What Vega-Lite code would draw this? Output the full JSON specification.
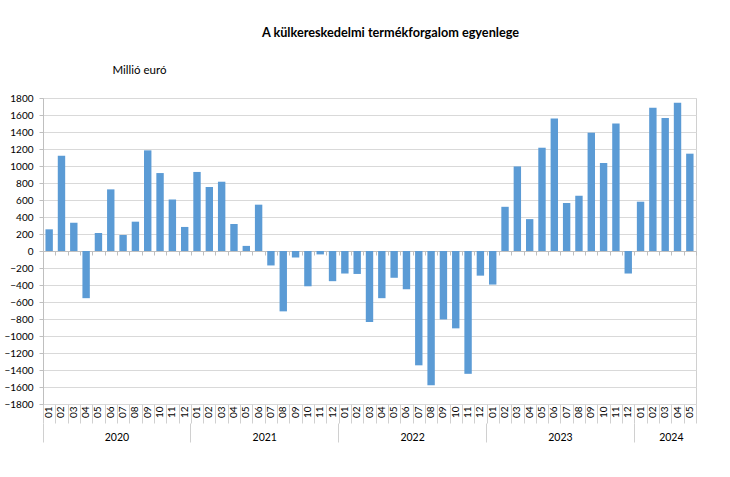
{
  "$schema": "https://vega.github.io/schema/vega-lite/v6.json",
  "width": 653,
  "height": 306,
  "autosize": {"type": "none"},
  "padding": {"left": 43, "top": 98, "right": 34, "bottom": 73},
  "background": "white",
  "config": {
    "font": "Lato",
    "view": {"stroke": "#d0d0d0", "strokeWidth": 1},
    "axis": {"labelFont": "Lato", "titleFont": "Lato", "labelColor": "#000000", "titleColor": "#000000"}
  },
  "title": {
    "text": "A külkereskedelmi termékforgalom egyenlege",
    "anchor": "middle",
    "frame": "group",
    "dx": 21,
    "offset": 24,
    "fontSize": 12.7,
    "font": "Lato",
    "fontWeight": "bold",
    "color": "#000000"
  },
  "data": {
    "values": [
      {"ym": "2020-01", "value": 255}, {"ym": "2020-02", "value": 1120}, {"ym": "2020-03", "value": 333},
      {"ym": "2020-04", "value": -555}, {"ym": "2020-05", "value": 212}, {"ym": "2020-06", "value": 725},
      {"ym": "2020-07", "value": 188}, {"ym": "2020-08", "value": 345}, {"ym": "2020-09", "value": 1184},
      {"ym": "2020-10", "value": 917}, {"ym": "2020-11", "value": 605}, {"ym": "2020-12", "value": 283},
      {"ym": "2021-01", "value": 930}, {"ym": "2021-02", "value": 753}, {"ym": "2021-03", "value": 815},
      {"ym": "2021-04", "value": 318}, {"ym": "2021-05", "value": 60}, {"ym": "2021-06", "value": 545},
      {"ym": "2021-07", "value": -170}, {"ym": "2021-08", "value": -710}, {"ym": "2021-09", "value": -75},
      {"ym": "2021-10", "value": -415}, {"ym": "2021-11", "value": -40}, {"ym": "2021-12", "value": -355},
      {"ym": "2022-01", "value": -265}, {"ym": "2022-02", "value": -270}, {"ym": "2022-03", "value": -835},
      {"ym": "2022-04", "value": -555}, {"ym": "2022-05", "value": -315}, {"ym": "2022-06", "value": -450},
      {"ym": "2022-07", "value": -1345}, {"ym": "2022-08", "value": -1580}, {"ym": "2022-09", "value": -805},
      {"ym": "2022-10", "value": -910}, {"ym": "2022-11", "value": -1445}, {"ym": "2022-12", "value": -290},
      {"ym": "2023-01", "value": -395}, {"ym": "2023-02", "value": 520}, {"ym": "2023-03", "value": 995},
      {"ym": "2023-04", "value": 375}, {"ym": "2023-05", "value": 1215}, {"ym": "2023-06", "value": 1560},
      {"ym": "2023-07", "value": 565}, {"ym": "2023-08", "value": 650}, {"ym": "2023-09", "value": 1392},
      {"ym": "2023-10", "value": 1035}, {"ym": "2023-11", "value": 1500}, {"ym": "2023-12", "value": -265},
      {"ym": "2024-01", "value": 580}, {"ym": "2024-02", "value": 1685}, {"ym": "2024-03", "value": 1565},
      {"ym": "2024-04", "value": 1745}, {"ym": "2024-05", "value": 1145}
    ]
  },
  "layer": [
    {
      "mark": {"type": "bar", "color": "#5b9bd5", "width": 7.4},
      "encoding": {
        "x": {
          "field": "ym", "type": "ordinal",
          "scale": {"paddingInner": 0, "paddingOuter": 0},
          "axis": {
            "orient": "bottom", "title": null, "domain": false,
            "labelExpr": "slice(datum.value, 5)",
            "labelAngle": -90, "labelAlign": "right", "labelBaseline": "middle",
            "labelFontSize": 10, "labelPadding": 2,
            "ticks": false
          }
        },
        "y": {
          "field": "value", "type": "quantitative",
          "scale": {"domain": [-1800, 1800], "nice": false},
          "axis": {
            "values": [-1800, -1600, -1400, -1200, -1000, -800, -600, -400, -200, 0, 200, 400, 600, 800, 1000, 1200, 1400, 1600, 1800],
            "format": "d",
            "grid": true, "gridColor": "#d9d9d9", "gridWidth": 1,
            "domain": true, "domainColor": "#bfbfbf",
            "ticks": true, "tickSize": 4, "tickColor": "#bfbfbf",
            "labelFontSize": 10, "labelPadding": 6,
            "title": "Millió euró", "titleAngle": 0, "titleX": 69, "titleY": -28,
            "titleAlign": "left", "titleBaseline": "middle",
            "titleFontWeight": "normal", "titleFontSize": 11.5
          }
        }
      }
    },
    {
      "mark": {"type": "rule", "opacity": 0},
      "encoding": {
        "x": {
          "field": "ym", "type": "ordinal",
          "axis": {
            "orient": "bottom", "title": null, "domain": false, "labels": false,
            "tickBand": "extent", "tickSize": 19, "tickColor": "#d0d0d0", "tickWidth": 1
          }
        }
      }
    },
    {
      "mark": {"type": "rule", "opacity": 0},
      "encoding": {
        "x": {
          "field": "ym", "type": "ordinal",
          "axis": {
            "orient": "bottom", "offset": 19, "title": null, "domain": false, "labels": false,
            "values": ["2020-01", "2021-01", "2022-01", "2023-01", "2024-01"],
            "bandPosition": 0,
            "tickSize": 19, "tickColor": "#d0d0d0", "tickWidth": 1
          }
        }
      }
    },
    {
      "mark": {"type": "rule", "opacity": 0},
      "encoding": {
        "x": {
          "field": "ym", "type": "ordinal",
          "axis": {
            "orient": "bottom", "offset": 19, "title": null, "domain": false, "ticks": false,
            "values": ["2020-06", "2021-06", "2022-06", "2023-06", "2024-03"],
            "labelExpr": "datum.value == '2024-03' ? '2024\u00a0\u00a0\u00a0\u00a0\u00a0\u00a0' : slice(datum.value, 0, 4)",
            "labelAngle": 0, "labelAlign": "center", "labelBaseline": "top",
            "labelOffset": 6.16, "labelFontWeight": "normal",
            "labelFontSize": 10.5, "labelPadding": 9
          }
        }
      }
    },
    {
      "mark": {"type": "rule", "opacity": 0},
      "encoding": {
        "x": {
          "field": "ym", "type": "ordinal",
          "axis": {
            "orient": "bottom", "offset": -153, "title": null, "labels": false,
            "domain": true, "domainColor": "#bfbfbf",
            "tickBand": "extent", "tickSize": 4, "tickColor": "#bfbfbf", "tickWidth": 1
          }
        }
      }
    }
  ],
  "resolve": {"axis": {"x": "independent"}}
}
